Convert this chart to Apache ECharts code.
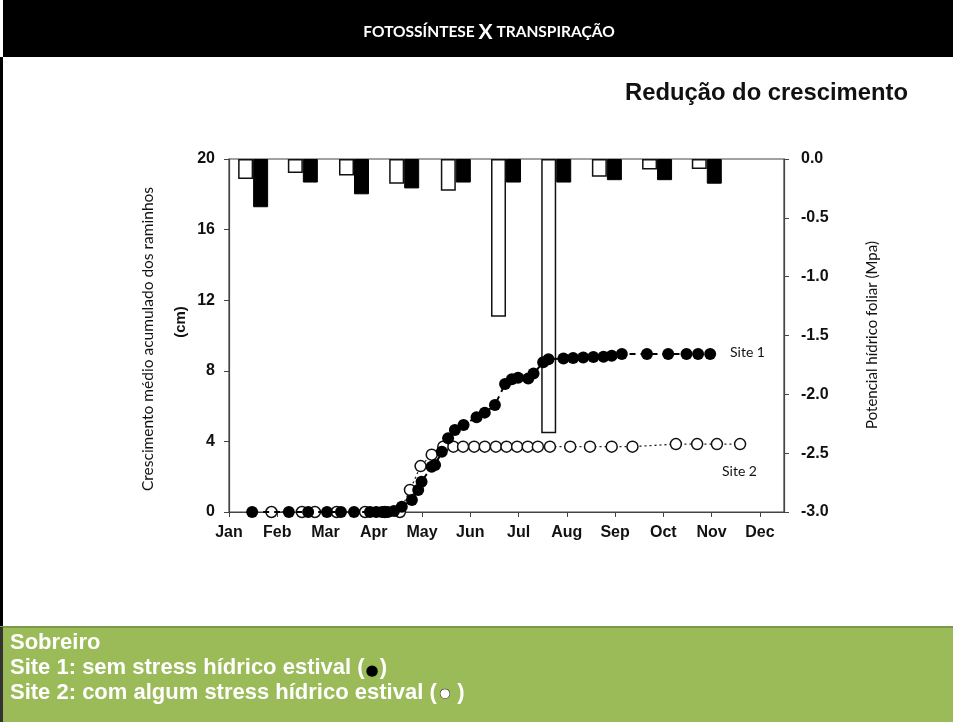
<!DOCTYPE html>
<html>
<head>
<meta charset="utf-8">
<script src="https://cdn.jsdelivr.net/npm/echarts@6/dist/echarts.min.js"></script>
<style>
html,body{margin:0;padding:0;background:#fff;}
#chart{width:953px;height:722px;}
</style>
</head>
<body>
<div id="chart"></div>
<script>
// ---- data ----
const monthLabels = ['Jan','Feb','Mar','Apr','May','Jun','Jul','Aug','Sep','Oct','Nov','Dec'];

// leaf water potential bars (MPa), x in months since 1 Jan
const barMonth = [0.50, 1.53, 2.59, 3.63, 4.70, 5.74, 6.78, 7.83, 8.87, 9.90];
const site2Potential = [-0.17, -0.12, -0.14, -0.21, -0.27, -1.34, -2.33, -0.15, -0.09, -0.085];
const site1Potential = [-0.41, -0.20, -0.30, -0.25, -0.20, -0.20, -0.20, -0.18, -0.18, -0.21];

// cumulative shoot growth (cm)
const site1Month = [0.48,1.24,1.64,2.03,2.32,2.59,2.92,3.05,3.17,3.29,3.42,3.58,3.79,3.92,3.99,4.20,4.27,4.41,4.54,4.68,4.86,5.13,5.30,5.51,5.72,5.86,5.99,6.20,6.31,6.51,6.62,6.93,7.13,7.34,7.55,7.76,7.93,8.14,8.66,9.10,9.48,9.72,9.97];
const site1Growth = [0,0,0,0,0,0,0,0,0,0,0.05,0.3,0.68,1.25,1.72,2.57,2.66,3.42,4.18,4.65,4.93,5.37,5.63,6.06,7.25,7.52,7.61,7.57,7.85,8.48,8.65,8.70,8.72,8.75,8.78,8.80,8.85,8.95,8.95,8.95,8.95,8.95,8.95];

const site2Month = [0.88,1.51,1.78,2.23,2.82,3.23,3.54,3.75,3.97,4.20,4.44,4.65,4.85,5.08,5.30,5.53,5.75,5.97,6.19,6.40,6.65,7.07,7.48,7.93,8.36,9.26,9.70,10.11,10.59];
const site2Growth = [0,0,0,0,0,0,0,1.25,2.6,3.25,3.7,3.7,3.7,3.7,3.7,3.7,3.7,3.7,3.7,3.7,3.7,3.7,3.7,3.7,3.7,3.85,3.85,3.85,3.85];

const leftTicks = [0, 4, 8, 12, 16, 20];

// ---- build ----
const pair = (xs, ys) => xs.map((x, i) => [x, ys[i]]);
const axisColor = '#444';
const tickFont = {fontFamily: 'Liberation Sans, Arial, sans-serif', fontWeight: 'bold', fontSize: 16, color: '#111'};
const calibri = 'Lato, "Open Sans", sans-serif';
const footFont = 'bold 22px "Liberation Sans", Arial, sans-serif';

const chart = echarts.init(document.getElementById('chart'), null, {renderer: 'canvas'});
chart.setOption({
  animation: false,
  backgroundColor: '#fff',
  grid: {left: 229, right: 169, top: 159, bottom: 210, show: true, borderColor: axisColor, borderWidth: 1.2, backgroundColor: 'transparent'},
  xAxis: {
    type: 'value', min: 0, max: 11.5, interval: 1,
    axisLine: {show: true, lineStyle: {color: axisColor, width: 1.2}},
    axisTick: {show: true, length: 5, lineStyle: {color: axisColor}},
    splitLine: {show: false},
    axisLabel: Object.assign({margin: 13, showMaxLabel: false, formatter: v => (Number.isInteger(v) && monthLabels[v]) ? monthLabels[v] : ''}, tickFont)
  },
  yAxis: [{
    type: 'value', min: leftTicks[0], max: leftTicks[leftTicks.length - 1], interval: 4, position: 'left',
    axisLine: {show: true, lineStyle: {color: axisColor, width: 1.2}},
    axisTick: {show: true, length: 5, lineStyle: {color: axisColor}},
    splitLine: {show: false},
    axisLabel: Object.assign({margin: 14}, tickFont)
  }, {
    type: 'value', min: -3, max: 0, interval: 0.5, position: 'right',
    axisLine: {show: true, lineStyle: {color: axisColor, width: 1.2}},
    axisTick: {show: true, length: 5, lineStyle: {color: axisColor}},
    splitLine: {show: false},
    axisLabel: Object.assign({margin: 17, formatter: v => v.toFixed(1)}, tickFont)
  }],
  series: [{
    name: 'Site 2 potential', type: 'bar', yAxisIndex: 1, data: pair(barMonth, site2Potential),
    barWidth: 15, barGap: '0%', z: 2,
    itemStyle: {color: '#fff', borderColor: '#111', borderWidth: 1.5}
  }, {
    name: 'Site 1 potential', type: 'bar', yAxisIndex: 1, data: pair(barMonth, site1Potential),
    barWidth: 15, barGap: '0%', z: 2,
    itemStyle: {color: '#000', borderColor: '#000', borderWidth: 1}
  }, {
    name: 'Site 2', type: 'line', yAxisIndex: 0, data: pair(site2Month, site2Growth), z: 4,
    symbol: 'circle', symbolSize: 11,
    itemStyle: {color: '#fff', borderColor: '#111', borderWidth: 1.5},
    lineStyle: {color: '#222', width: 1.3, type: [2, 3]}
  }, {
    name: 'Site 1', type: 'line', yAxisIndex: 0, data: pair(site1Month, site1Growth), z: 5,
    symbol: 'circle', symbolSize: 12,
    itemStyle: {color: '#000', borderColor: '#000', borderWidth: 0},
    lineStyle: {color: '#000', width: 2, type: [6, 5]}
  }],
  graphic: [
    {type: 'rect', shape: {x: 3, y: 0, width: 950, height: 57}, style: {fill: '#000'}, z: 0},
    {type: 'rect', shape: {x: 0, y: 57, width: 3, height: 665}, style: {fill: '#000'}, z: 0},
    {type: 'rect', shape: {x: 0, y: 627, width: 953, height: 95}, style: {fill: '#9bbb59'}, z: 0},
    {type: 'rect', shape: {x: 0, y: 626, width: 953, height: 2}, style: {fill: '#7a9a48'}, z: 0},
    {type: 'rect', shape: {x: 0, y: 627, width: 3, height: 95}, style: {fill: '#333'}, z: 1},
    {type: 'text', x: 489, y: 32, z: 10, style: {
      text: '{s|FOTOSSÍNTESE }{b|X}{s| TRANSPIRAÇÃO}', textAlign: 'center', textVerticalAlign: 'middle',
      rich: {s: {fontFamily: calibri, fontWeight: 'bold', fontSize: 15.5, fill: '#fff'},
             b: {fontFamily: calibri, fontWeight: 'bold', fontSize: 21, fill: '#fff'}}
    }},
    {type: 'text', x: 908, y: 93, z: 10, style: {
      text: 'Redução do crescimento', textAlign: 'right', textVerticalAlign: 'middle',
      font: 'bold 23.8px "Liberation Sans", Arial, sans-serif', fill: '#111'
    }},
    {type: 'text', x: 148, y: 339, rotation: Math.PI / 2, z: 10, style: {
      text: 'Crescimento médio acumulado dos raminhos', textAlign: 'center', textVerticalAlign: 'middle',
      font: '15.5px ' + calibri, fill: '#111'
    }},
    {type: 'text', x: 181, y: 322, rotation: Math.PI / 2, z: 10, style: {
      text: '(cm)', textAlign: 'center', textVerticalAlign: 'middle',
      font: 'bold 15px "Liberation Sans", Arial, sans-serif', fill: '#111'
    }},
    {type: 'text', x: 872, y: 335, rotation: Math.PI / 2, z: 10, style: {
      text: 'Potencial hídrico foliar (Mpa)', textAlign: 'center', textVerticalAlign: 'middle',
      font: '15px ' + calibri, fill: '#111'
    }},
    {type: 'text', x: 730, y: 352, z: 10, style: {
      text: 'Site 1', textAlign: 'left', textVerticalAlign: 'middle',
      font: '14px ' + calibri, fill: '#111'
    }},
    {type: 'text', x: 722, y: 471, z: 10, style: {
      text: 'Site 2', textAlign: 'left', textVerticalAlign: 'middle',
      font: '14px ' + calibri, fill: '#111'
    }},
    {type: 'text', x: 10, y: 643, z: 10, style: {
      text: 'Sobreiro', textAlign: 'left', textVerticalAlign: 'middle',
      font: footFont, fill: '#fff'
    }},
    {type: 'text', x: 10, y: 668, z: 10, style: {
      text: '{t|Site 1: sem stress hídrico estival (}{d|●}{t|)}', textAlign: 'left', textVerticalAlign: 'middle',
      rich: {t: {font: footFont, fill: '#fff'},
             d: {font: '15px "DejaVu Sans", sans-serif', fill: '#000', padding: [7, 1, 0, 1]}}
    }},
    {type: 'text', x: 10, y: 693, z: 10, style: {
      text: '{t|Site 2: com algum stress hídrico estival (}{d|●}{t| )}', textAlign: 'left', textVerticalAlign: 'middle',
      rich: {t: {font: footFont, fill: '#fff'},
             d: {font: '12px "DejaVu Sans", sans-serif', fill: '#fff', stroke: '#000', lineWidth: 1, padding: [2, 1, 0, 3]}}
    }}
  ]
});
</script>
</body>
</html>
